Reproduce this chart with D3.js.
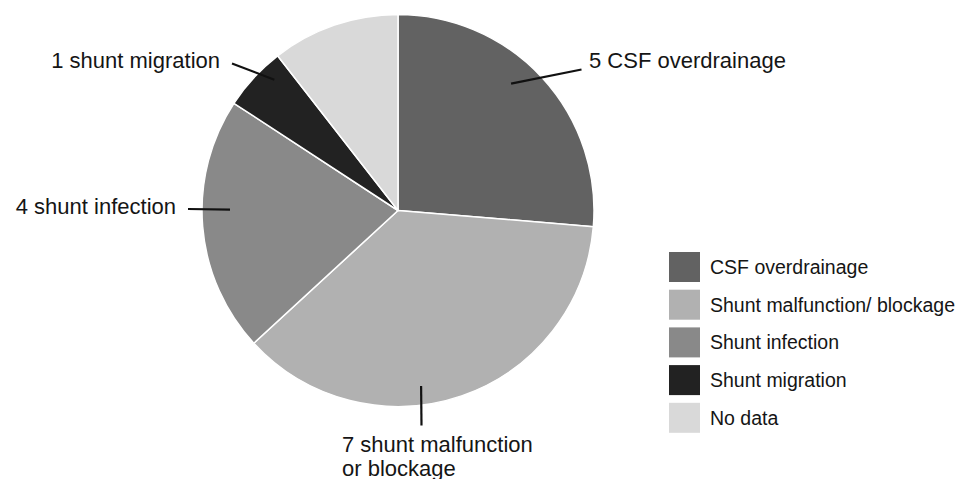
<!DOCTYPE html>
<html>
<head>
<meta charset="utf-8">
<script src="https://cdn.jsdelivr.net/npm/d3@7"></script>
<style>
  html, body { margin: 0; padding: 0; background: #fff; }
  svg { display: block; font-family: Arial, "Liberation Sans", Helvetica, sans-serif; }
</style>
</head>
<body>
<svg id="chart" width="964" height="479"></svg>
<script>
// Shunt complications (number of patients)
const categories = ["CSF overdrainage", "Shunt malfunction/ blockage", "Shunt infection", "Shunt migration", "No data"];
const counts = [5, 7, 4, 1, 2];
const colors = ["#626262", "#b1b1b1", "#898989", "#222222", "#d9d9d9"];
// Slice annotations: text lines and leader geometry (angle in degrees clockwise from 12 o'clock)
const labelLines = [
  ["5 CSF overdrainage"],
  ["7 shunt malfunction", "or blockage"],
  ["4 shunt infection"],
  ["1 shunt migration"],
  null
];
const leaderAngle = [41.7, 172.5, 270.3, 316.6, null];
const leaderInner = [170, 177, 168, 180, null];

const svg = d3.select("#chart");
const cx = 398, cy = 210.5, R = 196;

const pie = d3.pie().sort(null).value(d => d.v);
const data = categories.map((c, i) => ({ name: c, v: counts[i], i }));
const arcs = pie(data);
const arc = d3.arc().innerRadius(0).outerRadius(R);
const color = d3.scaleOrdinal().domain(categories).range(colors);

const g = svg.append("g").attr("transform", `translate(${cx},${cy})`);
g.selectAll("path.slice")
  .data(arcs)
  .join("path")
  .attr("class", "slice")
  .attr("d", arc)
  .attr("fill", d => color(d.data.name))
  .attr("stroke", "#fff")
  .attr("stroke-width", 1.5)
  .attr("stroke-linejoin", "round");

// Leader lines and labels
const rad = a => a * Math.PI / 180;
const polar = (a, r) => [r * Math.sin(rad(a)), -r * Math.cos(rad(a))];
const leaders = [
  { end: [183.5, -141], text: [191, -142.5], anchor: "start" },  // CSF overdrainage
  { end: [23.5, 215], text: [-56, 241.5], anchor: "start" },      // malfunction
  { end: [-210, -1.5], text: [-222, 3], anchor: "end" },           // infection
  { end: [-166, -147], text: [-178, -142.5], anchor: "end" },      // migration
];
leaders.forEach((L, idx) => {
  const [x0, y0] = polar(leaderAngle[idx], leaderInner[idx]);
  g.append("line")
    .attr("x1", x0).attr("y1", y0)
    .attr("x2", L.end[0]).attr("y2", L.end[1])
    .attr("stroke", "#111").attr("stroke-width", 2.2);
  const t = g.append("text")
    .attr("x", L.text[0]).attr("y", L.text[1])
    .attr("text-anchor", L.anchor)
    .attr("font-size", 22)
    .attr("fill", "#151515");
  labelLines[idx].forEach((line, j) => {
    t.append("tspan").attr("x", L.text[0]).attr("dy", j === 0 ? 0 : 23.5).text(line);
  });
});

// Legend
const legend = svg.append("g").attr("transform", "translate(669,252)");
const rows = legend.selectAll("g.row")
  .data(categories)
  .join("g")
  .attr("class", "row")
  .attr("transform", (d, i) => `translate(0,${i * 37.7})`);
rows.append("rect")
  .attr("width", 31).attr("height", 30)
  .attr("fill", d => color(d));
rows.append("text")
  .attr("x", 41).attr("y", 22)
  .attr("font-size", 19.5)
  .attr("fill", "#151515")
  .text(d => d);
</script>
</body>
</html>
